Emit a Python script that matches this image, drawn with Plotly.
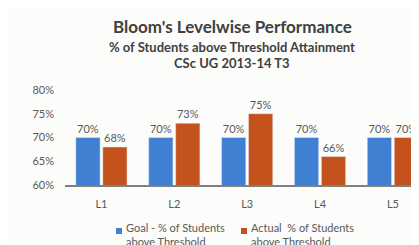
import plotly.graph_objects as go

categories = ["L1", "L2", "L3", "L4", "L5"]
goal_values = [70, 70, 70, 70, 70]
actual_values = [68, 73, 75, 66, 70]
goal_name = "Goal - % of Students<br>above Threshold"
actual_name = "Actual  % of Students<br>above Threshold"
y_ticks = [60, 65, 70, 75, 80]

FONT = "Lato, 'Open Sans', sans-serif"
GREY = "#595959"
BLUE = "#3f80d2"
ORANGE = "#c4521c"

# pixel layout helpers (plot area: x 57..419, y 82..177)
L, T, B = 57, 82, 177
W, H = 419 - L, B - T
def px(x):
    return (x - L) / W
def py(y):
    return (B - y) / H

fig = go.Figure()
fig.add_trace(go.Bar(
    x=categories, y=goal_values, name=goal_name, marker_color=BLUE,
    text=[f"{v}%" for v in goal_values], textposition="outside",
    textfont=dict(size=11, color=GREY, family=FONT), cliponaxis=False,
))
fig.add_trace(go.Bar(
    x=categories, y=actual_values, name=actual_name, marker_color=ORANGE,
    text=[f"{v}%" for v in actual_values], textposition="outside",
    textfont=dict(size=11, color=GREY, family=FONT), cliponaxis=False,
))

fig.update_layout(
    width=419, height=245,
    margin=dict(l=L, r=0, t=T, b=245 - B, autoexpand=False),
    paper_bgcolor="#fcfcfa", plot_bgcolor="#fcfcfa",
    font=dict(family=FONT, color=GREY, size=11),
    barmode="group", bargap=0.26, bargroupgap=0.1,
    showlegend=False,
)
fig.update_xaxes(
    range=[-0.5, 4.468], showline=True, linecolor="#808080", linewidth=1.5,
    showgrid=False, ticks="", ticklabelstandoff=8,
    tickfont=dict(size=11, color=GREY, family=FONT),
)
fig.update_yaxes(
    range=[60, 80], tickvals=y_ticks, ticktext=[f"{v}%" for v in y_ticks],
    showgrid=False, zeroline=False, showline=False, ticks="",
    ticklabelstandoff=10, tickfont=dict(size=11, color=GREY, family=FONT),
)

# titles
cx = px(224)
fig.add_annotation(text="<b>Bloom's Levelwise Performance</b>", xref="paper", yref="paper",
                   x=cx, y=py(19), xanchor="center", yanchor="middle", showarrow=False,
                   font=dict(size=17, color="#404040", family=FONT))
fig.add_annotation(text="<b>% of Students above Threshold Attainment</b>", xref="paper", yref="paper",
                   x=cx, y=py(39), xanchor="center", yanchor="middle", showarrow=False,
                   font=dict(size=13, color="#404040", family=FONT))
fig.add_annotation(text="<b>CSc UG 2013-14 T3</b>", xref="paper", yref="paper",
                   x=cx, y=py(55), xanchor="center", yanchor="middle", showarrow=False,
                   font=dict(size=13, color="#404040", family=FONT))

# legend (drawn manually to match the compact reference layout)
for name, color, sx in [(goal_name, BLUE, 111), (actual_name, ORANGE, 236)]:
    fig.add_shape(type="rect", xref="paper", yref="paper",
                  x0=px(sx - 3), x1=px(sx + 3), y0=py(226), y1=py(220),
                  fillcolor=color, line_width=0)
    fig.add_annotation(text=name, xref="paper", yref="paper", align="left",
                       x=px(sx + 5), y=py(211), xanchor="left", yanchor="top",
                       showarrow=False, font=dict(size=11, color=GREY, family=FONT))

fig.write_html("out.html")
